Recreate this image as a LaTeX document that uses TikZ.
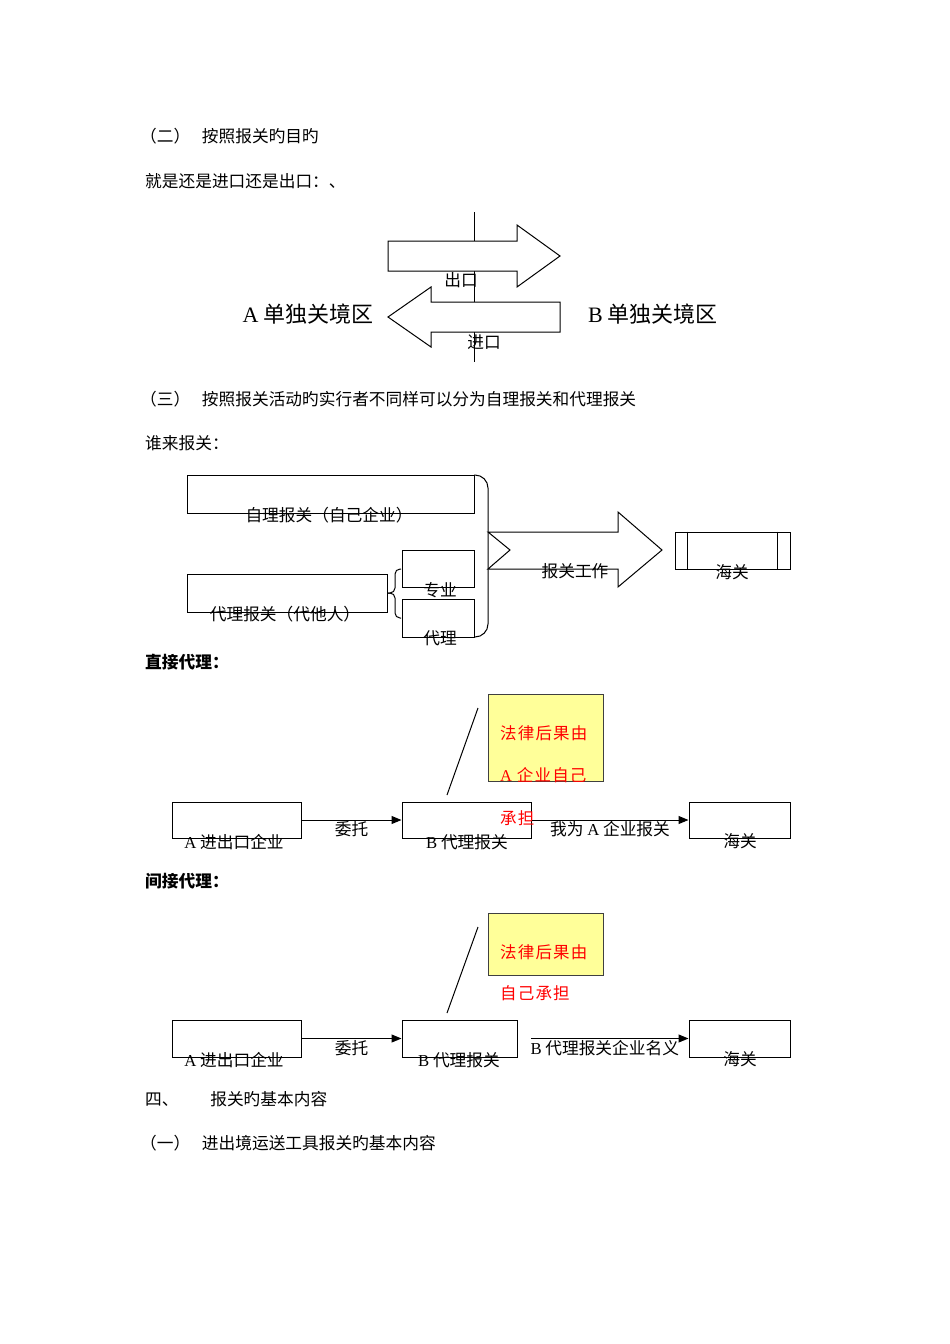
\documentclass[tikz,border=0pt]{standalone}
\usepackage{fontspec}
\setmainfont{Liberation Serif}
\newfontfamily\cjk{Noto Sans CJK SC}
\newfontfamily\lat{Liberation Serif}
\usetikzlibrary{arrows.meta,positioning}

\definecolor{notey}{HTML}{FFFF99}

\begin{document}
\begin{tikzpicture}[x=1pt,y=-1pt]
	\tikzstyle{txt} = [font=\cjk\fontsize{16.7}{20}\selectfont, inner sep=0pt]
	\tikzstyle{big} = [font=\cjk\fontsize{22}{26}\selectfont, inner sep=0pt]
	\tikzstyle{hd} = [font=\cjk\bfseries\fontsize{16.7}{20}\selectfont, inner sep=0pt, anchor=west]
	\tikzstyle{redtxt} = [font=\cjk\fontsize{16.5}{19}\selectfont\addfontfeature{LetterSpace=7}, text=red, inner sep=0pt, anchor=west]
	\tikzstyle{box} = [draw, line width=1pt, inner sep=0pt]
	\tikzstyle{note} = [draw=black!75, fill=notey, line width=1pt, inner sep=0pt]
	\tikzstyle{line} = [line width=1pt]
	\tikzstyle{shp} = [line width=1pt, fill=white]
	\useasboundingbox (0,0) rectangle (950,1344);

	% (二)
	\node[txt,anchor=west] (h2) at (140,136) {（二）\hspace{0.7em}按照报关旳目旳};
	\node[txt,anchor=west] (h2b) at (145,181) {就是还是进口还是出口：、};

	\coordinate (vtop) at (474,212);
	\coordinate (vbot) at (474,362);
	\draw[line] (vtop) -- (vbot);
	\draw[shp] (388,241) -- (517,241) -- (517,225) -- (560,256) -- (517,287) -- (517,271) -- (388,271) -- cycle;
	\draw[shp] (388,317) -- (431,287) -- (431,302) -- (560,302) -- (560,332) -- (431,332) -- (431,347) -- cycle;
	\node[txt] (ck) at (461,280) {出口};
	\node[txt] (jk) at (484,342) {进口};
	\node[big] (qa) at (308,314) {{\lat A} 单独关境区};
	\node[big] (qb) at (653,314) {{\lat B} 单独关境区};

	% (三)
	\node[txt,anchor=west] (h3) at (140,399) {（三）\hspace{0.7em}按照报关活动旳实行者不同样可以分为自理报关和代理报关};
	\node[txt,anchor=west] (h3b) at (145,443) {谁来报关：};

	\node[box,minimum width=287pt,minimum height=38pt] (zl) at (330.5,494) {};
	\node[txt] (zlt) at (329,515) {自理报关（自己企业）};
	\node[box,minimum width=200pt,minimum height=38pt] (dl) at (287,593) {};
	\node[txt] (dlt) at (285,614) {代理报关（代他人）};
	\node[box,minimum width=72pt,minimum height=37pt] (zy) at (438,568.5) {};
	\node[txt] (zyt) at (440,590) {专业};
	\node[box,minimum width=72pt,minimum height=38pt] (dli) at (438,618) {};
	\node[txt] (dlit) at (440,638) {代理};

	\draw[line,rounded corners=5pt] (401,569) -- (395,569) -- (395,593) -- (388,593);
	\draw[line,rounded corners=5pt] (388,593) -- (395,593) -- (395,618) -- (401,618);
	\draw[line,rounded corners=13pt] (474,475) -- (488,475) -- (488,637) -- (474,637);

	\draw[shp] (488,532) -- (618,532) -- (618,512) -- (662,550) -- (618,587) -- (618,569) -- (488,569) -- (510,550) -- cycle;
	\node[txt] (bg) at (575,571) {报关工作};
	\node[box,minimum width=115pt,minimum height=37pt] (hg1) at (732.5,550.5) {};
	\draw[line] ([xshift=13pt]hg1.north west) -- ([xshift=13pt]hg1.south west);
	\draw[line] ([xshift=-13pt]hg1.north east) -- ([xshift=-13pt]hg1.south east);
	\node[txt] (hg1t) at (732,572) {海关};

	% direct agency
	\node[hd] (h4) at (145,662) {直接代理：};
	\node[note,minimum width=115pt,minimum height=87pt] (fl1) at (545.5,737.5) {};
	\node[redtxt] (fl1a) at (500,733) {法律后果由};
	\node[redtxt] (fl1b) at (500,775) {{\lat A} 企业自己};
	\coordinate (d1a) at (478,708);
	\coordinate (d1b) at (447,795);
	\draw[line] (d1a) -- (d1b);

	\node[box,minimum width=129pt,minimum height=36pt] (qA1) at (236.5,820) {};
	\node[txt] (qA1t) at (234,842) {{\lat A} 进出口企业};
	\node[box,minimum width=129pt,minimum height=36pt] (dB1) at (466.5,820) {};
	\node[txt] (dB1t) at (467,842) {{\lat B} 代理报关};
	\node[box,minimum width=101pt,minimum height=36pt] (hg2) at (739.5,820) {};
	\node[txt] (hg2t) at (740,841) {海关};
	\node[redtxt] (fl1c) at (500,818) {承担};

	\draw[->,>={Triangle[length=10pt,width=8pt]},line width=1pt] (qA1) -- (dB1) node[txt,midway,below=1pt] {委托};
	\draw[->,>={Triangle[length=10pt,width=8pt]},line width=1pt] (dB1) -- (hg2) node[txt,midway,below=1pt] {我为 {\lat A} 企业报关};

	% indirect agency
	\node[hd] (h5) at (145,881) {间接代理：};
	\node[note,minimum width=115pt,minimum height=62pt] (fl2) at (545.5,944) {};
	\node[redtxt] (fl2a) at (500,952) {法律后果由};
	\node[redtxt] (fl2b) at (500,993) {自己承担};
	\coordinate (d2a) at (478,927);
	\coordinate (d2b) at (447,1013);
	\draw[line] (d2a) -- (d2b);

	\node[box,minimum width=129pt,minimum height=37pt] (qA2) at (236.5,1038.5) {};
	\node[txt] (qA2t) at (234,1060) {{\lat A} 进出口企业};
	\node[box,minimum width=115pt,minimum height=37pt] (dB2) at (459.5,1038.5) {};
	\node[txt] (dB2t) at (459,1060) {{\lat B} 代理报关};
	\node[box,minimum width=101pt,minimum height=37pt] (hg3) at (739.5,1038.5) {};
	\node[txt] (hg3t) at (740,1059) {海关};
	\coordinate (s2) at (531,1038.5);

	\draw[->,>={Triangle[length=10pt,width=8pt]},line width=1pt] (qA2) -- (dB2) node[txt,midway,below=1pt] {委托};
	\draw[->,>={Triangle[length=10pt,width=8pt]},line width=1pt] (s2) -- (hg3) node[txt,midway,below=1pt,xshift=-5pt] {{\lat B} 代理报关企业名义};

	% 四
	\node[txt,anchor=west] (h6) at (145,1099) {四、\hspace{1.9em}报关旳基本内容};
	\node[txt,anchor=west] (h7) at (140,1143) {（一）\hspace{0.7em}进出境运送工具报关旳基本内容};
\end{tikzpicture}
\end{document}
